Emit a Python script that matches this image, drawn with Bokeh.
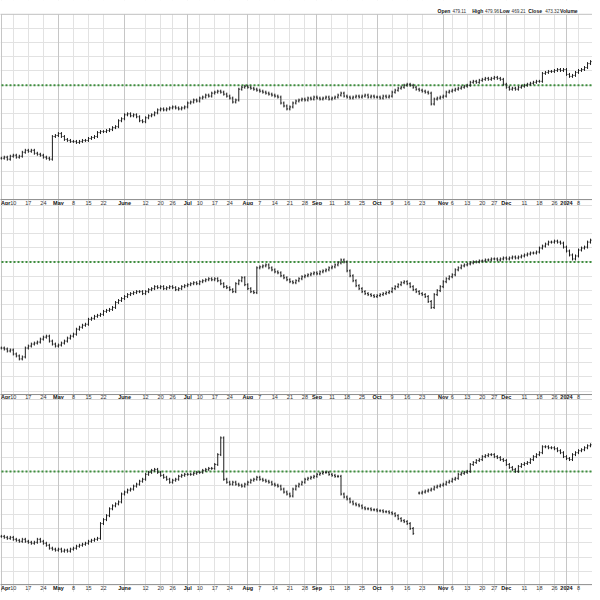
import math
from bokeh.plotting import figure
from bokeh.models import Range1d, FixedTicker, Grid, ColumnDataSource
from bokeh.layouts import column
from bokeh.core.properties import value
from bokeh.embed import file_html
from bokeh.resources import INLINE

nan = float("nan")

# ---- date axis (trading-day index from Apr 3 2023) ----
tick_index = [0, 4, 9, 14, 19, 24, 29, 34, 41, 48, 53, 57, 62, 66, 71, 76, 82, 86, 91, 96, 101,
              105, 110, 115, 120, 125, 130, 135, 140, 147, 150, 155, 160, 164, 168, 174, 179, 184, 188, 192]
tick_label = ["Apr", "10", "17", "24", "May", "8", "15", "22", "June", "12", "20", "26", "Jul", "10", "17", "24",
              "Aug", "7", "14", "21", "28", "Sep", "11", "18", "25", "Oct", "9", "16", "23", "Nov", "6", "13", "20",
              "27", "Dec", "11", "18", "26", "2024", "8"]
month_names = ["Apr", "May", "June", "Jul", "Aug", "Sep", "Oct", "Nov", "Dec", "2024"]

header_names = ["Open", "High", "Low", "Close", "Volume"]
header_values = ["479.11", "479.96", "469.21", "473.32", ""]

# ---- daily closes, panel 1 ----
close1 = [386, 387, 385, 388, 389, 387, 388,
          392, 394, 393, 394, 391, 390, 389, 387, 386, 385,
          408, 409, 411, 408, 405, 404, 403,
          403, 402, 403, 404, 404, 406, 407, 408,
          412, 413, 413, 414, 415, 417, 418, 424, 426,
          430, 431, 429, 430, 428, 424, 423,
          427, 429, 430, 432, 435, 436, 435, 436, 437,
          438, 437, 436, 437, 438, 442, 443, 445, 444,
          447, 448, 450, 449, 452, 453, 454, 453, 451, 449, 447, 443, 445,
          456, 458, 459, 458, 457, 456, 455, 454, 453,
          452, 451, 450, 449, 448, 442, 439, 436, 438,
          442, 444, 445, 446, 445,
          447, 446, 448, 447, 446, 447, 448, 446, 447, 448,
          450, 452, 449, 448,
          447, 448, 449, 448, 449, 450, 448, 449, 448,
          448, 447, 449, 448, 449,
          453, 455, 457, 458, 460, 461, 460,
          458, 456, 455, 454, 453, 452, 441,
          446, 447, 448, 449,
          453, 454, 455, 456, 457, 458, 459, 460,
          463, 464, 463,
          465, 466, 467, 466, 467, 468, 467, 466,
          461, 458, 456, 457, 456, 458,
          459, 460, 461, 462, 463, 464, 464,
          472, 473, 474, 474, 475, 476, 475, 476,
          471, 469, 470, 473, 475, 476, 478, 482, 484]

# ---- daily closes, panel 2 ----
close2 = [303, 302, 300, 301, 297, 295, 292, 294,
          303, 305, 307, 308, 309, 312, 314, 315,
          310, 307, 305, 306, 308, 310, 313, 315, 317,
          322, 324, 326, 327, 332, 333, 335, 336, 337,
          340, 341, 342, 344, 349, 351, 353, 355,
          357, 358, 359, 360, 360, 358, 360, 362, 363,
          365, 364, 365, 363, 364, 365, 364, 362, 363, 365,
          366, 367, 368, 369, 368, 370, 371, 372, 373, 372,
          373, 371, 368, 365, 364, 362, 360, 368, 371, 374,
          367, 363, 360, 359,
          384, 385, 386, 387, 384, 382, 380, 379,
          376, 374, 372, 370, 369, 371, 373, 375,
          376, 377, 378, 379, 378, 380, 381, 382,
          384, 385, 387, 389, 392, 390,
          381, 376, 371, 366, 363, 360, 358,
          357, 356, 355, 356, 357, 358, 359, 360,
          363, 365, 367, 369, 370, 368, 365, 362,
          360, 358, 357, 355, 350, 344,
          357, 361, 365, 370, 373, 375, 377,
          382, 384, 386, 387, 388, 389, 390, 390, 391, 391,
          392, 392, 393, 393, 392, 393, 394, 393, 394, 395, 394, 395,
          396, 397, 398, 399, 399, 400, 404, 406, 408, 410,
          410, 411, 410, 409, 405, 401, 397, 393, 396,
          402, 404, 405, 410, 412]

# ---- daily closes, panel 3 ----
close3 = [124, 123, 122, 123, 121, 120, 119, 121,
          119, 118, 117, 118, 121, 119, 117, 115,
          112, 111, 110, 111, 109, 110, 109, 111, 112,
          114, 115, 116, 117, 119, 120, 121, 122,
          137, 141, 145, 152, 155, 157, 159,
          167, 169, 171, 172, 175, 177, 180, 182,
          187, 189, 191, 192, 189, 186, 184, 182,
          179, 181, 182, 185, 186, 187, 187,
          187, 188, 189, 189, 191, 192, 193, 193,
          197, 207, 224, 182, 179, 177,
          179, 177, 176, 175, 177, 179, 181, 182,
          184, 182, 181, 180, 179, 177, 176, 175,
          172, 169, 167, 165, 172, 175, 177, 179,
          182, 183, 184, 185, 187, 188, 189, 189,
          187, 186, 185, 185, 167, 164, 162,
          159, 157, 156, 155, 153, 152, 152, 151,
          151, 150, 150, 149, 149, 148, 147, 145,
          142, 140, 139, 137, 132, 127, nan, 168,
          169, 170, 171, 172, 174, 175, 176, 177,
          179, 180, 182, 183, 187, 188, 189, 190,
          197, 199, 201, 202, 205, 206, 207, 207,
          205, 204, 202, 201, 197, 194, 192, 190,
          195, 197, 198, 199, 202, 205, 207, 209,
          215, 215, 214, 214, 213, 211, 209,
          205, 203, 202, 207, 209, 211,
          212, 214, 216, 217]

levels = [460, 390, 190]

W = 592
REF_PX = 3.047        # reference pixels per trading day
REF_X0 = 0.8          # reference pixel of day 0
X_LO = (0 - REF_X0) / REF_PX
X_HI = (600 - REF_X0) / REF_PX
BAR_COLOR = "#1e1e1e"
FONT = "Liberation Sans"
FS = "5.5px"


def ref_x(px):
    return (px - REF_X0) / REF_PX


def ohlc_source(closes):
    xs, o, h, l, c = [], [], [], [], []
    prev = None
    for i, cl in enumerate(closes):
        if cl != cl:
            prev = None
            continue
        op = cl if prev is None else prev
        xs.append(i)
        o.append(op)
        c.append(cl)
        h.append(max(op, cl) + 1.5)
        l.append(min(op, cl) - 1.5)
        prev = cl
    return ColumnDataSource(dict(x=xs, xl=[v - 0.34 for v in xs], xr=[v + 0.34 for v in xs],
                                 open=o, high=h, low=l, close=c))


def panel(closes, level, fig_top, fig_bot, plot_top, plot_bot, label_y, height):
    p = figure(width=W, height=height, output_backend="svg", toolbar_location=None,
               x_range=Range1d(X_LO, X_HI), y_range=Range1d(fig_bot, fig_top),
               min_border_left=0, min_border_right=0, min_border_top=0, min_border_bottom=0)
    p.axis.visible = False
    p.outline_line_color = None
    p.background_fill_color = "white"
    p.border_fill_color = "white"
    wk_t = [t for t, lab in zip(tick_index, tick_label) if lab not in month_names]
    mo_t = [t for t, lab in zip(tick_index, tick_label) if lab in month_names]
    p.xgrid.ticker = FixedTicker(ticks=wk_t)
    p.xgrid.grid_line_color = "#e2e2e2"
    p.add_layout(Grid(dimension=0, ticker=FixedTicker(ticks=mo_t), grid_line_color="#c6c6c6"))
    step = 14.5
    k0 = math.ceil((plot_bot - level) / step)
    k1 = math.floor((plot_top - level) / step)
    p.ygrid.ticker = FixedTicker(ticks=[level + k * step for k in range(k0, k1 + 1)])
    p.ygrid.grid_line_color = "#e2e2e2"
    xa, xb = X_LO - 1, X_HI + 1
    if fig_top > plot_top + 0.5:
        p.quad(left=xa, right=xb, bottom=plot_top, top=fig_top + 1, fill_color="white", line_color=None)
    p.segment(x0=[xa, xa], y0=[plot_top, plot_bot], x1=[xb, xb], y1=[plot_top, plot_bot],
              line_color=["#c0c0c0", "#8c8c8c"], line_width=1)
    p.segment(x0=[xa], y0=[level], x1=[xb], y1=[level], line_color="#3f8f3f", line_dash="2 2", line_width=2)
    src = ohlc_source(closes)
    p.segment("x", "low", "x", "high", source=src, line_color=BAR_COLOR, line_width=1)
    p.segment("xl", "open", "x", "open", source=src, line_color=BAR_COLOR, line_width=1)
    p.segment("x", "close", "xr", "close", source=src, line_color=BAR_COLOR, line_width=1)
    wk_l = [lab for lab in tick_label if lab not in month_names]
    p.text(x=wk_t, y=[label_y] * len(wk_t), text=wk_l, text_align="center", text_baseline="middle",
           text_font=value(FONT), text_font_size=FS, text_color="#333333")
    # month labels; the first one (at the very left edge) is left-aligned so it stays whole
    mo_x, mo_l, mo_a = [], [], []
    for t, lab in zip(tick_index, tick_label):
        if lab in month_names:
            edge = t == tick_index[0]
            mo_x.append(ref_x(0.5) if edge else t)
            mo_l.append(lab)
            mo_a.append("left" if edge else "center")
    msrc = ColumnDataSource(dict(x=mo_x, y=[label_y] * len(mo_x), t=mo_l, a=mo_a))
    p.text(x="x", y="y", text="t", text_align="a", source=msrc, text_baseline="middle",
           text_font=value(FONT), text_font_size=FS, text_font_style="bold", text_color="#111111")
    return p


# panel units: 1 unit = 1 reference pixel row; figures cover ref rows 0-208, 208-404, 404-600
p1 = panel(close1, levels[0], fig_top=546, fig_bot=338, plot_top=532, plot_bot=344, label_y=341, height=205)
p2 = panel(close2, levels[1], fig_top=447, fig_bot=251, plot_top=447, plot_bot=256, label_y=253.5, height=194)
p3 = panel(close3, levels[2], fig_top=263, fig_bot=67, plot_top=263, plot_bot=75, label_y=71.5, height=193)

# header fields (reference pixel starts)
hx_names = [443, 478, 506, 535, 567]
hx_vals = [458, 491, 518, 552, 0]
hy = 535.5
for nm, vv, xn, xv in zip(header_names, header_values, hx_names, hx_vals):
    p1.text(x=[ref_x(xn)], y=[hy], text=[nm], text_font=value(FONT), text_font_size="5px",
            text_font_style="bold", text_baseline="middle", text_color="#111111")
    if vv:
        p1.text(x=[ref_x(xv)], y=[hy], text=[vv], text_font=value(FONT), text_font_size="4.6px",
                text_baseline="middle", text_color="#333333")

layout = column(p1, p2, p3, spacing=0)
open("out.html", "w").write(file_html(layout, INLINE))
